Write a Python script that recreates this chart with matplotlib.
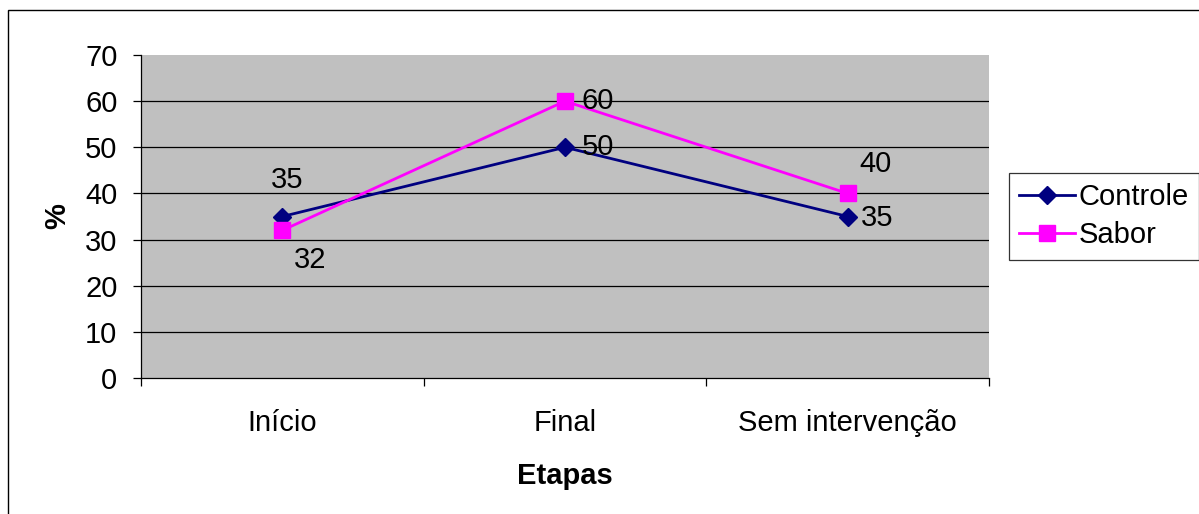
import matplotlib
matplotlib.use("Agg")
import matplotlib.pyplot as plt
from matplotlib.patches import Rectangle

categories = ["Início", "Final", "Sem intervenção"]
controle = [35, 50, 35]
sabor = [32, 60, 40]
yticks = [0, 10, 20, 30, 40, 50, 60, 70]

plt.rcParams['font.family'] = ['Liberation Sans', 'DejaVu Sans']
FS = 21

fig = plt.figure(figsize=(11.99, 5.14), dpi=100)
ax = fig.add_axes([141/1199, 1-378/514, (989-141)/1199, (378-55)/514])
ax.set_facecolor('#C0C0C0')

x = list(range(len(categories)))
ax.plot(x, controle, color='#000080', lw=2, marker='D', ms=9,
        markerfacecolor='#000080', markeredgecolor='#000080', label='Controle', zorder=3)
ax.plot(x, sabor, color='#FF00FF', lw=2, marker='s', ms=12,
        markerfacecolor='#FF00FF', markeredgecolor='#FF00FF', label='Sabor', zorder=3)

ax.set_xlim(-0.5, 2.5)
ax.set_ylim(0, 70)
ax.set_yticks(yticks)
ax.set_yticklabels([str(v) for v in yticks], fontsize=FS)
for v in yticks[1:-1]:
    ax.axhline(v, color='black', lw=0.9, zorder=1)

ax.set_xticks([-0.5, 0.5, 1.5, 2.5])
ax.set_xticklabels([])
ax.set_xticks(x, minor=True)
ax.set_xticklabels(categories, minor=True, fontsize=FS)
ax.tick_params(axis='x', which='minor', length=0, pad=22)
ax.tick_params(axis='x', which='major', length=6, width=0.9, direction='out')
ax.tick_params(axis='y', length=6, width=0.9, direction='out', pad=11)

for s in ['top', 'right']:
    ax.spines[s].set_visible(False)
for s in ['left', 'bottom']:
    ax.spines[s].set_linewidth(0.9)

ax.set_xlabel("Etapas", fontsize=FS, fontweight='bold', labelpad=18)
ax.set_ylabel("%", fontsize=FS, fontweight='bold', labelpad=10)

# data labels
def lab(xi, yi, dx, dy):
    ax.annotate(str(yi), (xi, yi), xytext=(dx, dy), textcoords='offset points',
                ha='center', va='center', fontsize=FS)

lab(0, controle[0], 3.5, 26)
lab(0, sabor[0], 20, -21)
lab(1, controle[1], 23.5, 0)
lab(1, sabor[1], 23.5, 0)
lab(2, controle[2], 21, -1)
lab(2, sabor[2], 20, 21.5)

leg = fig.legend(loc='upper left', bbox_to_anchor=(1009/1199, 1-173/514), fontsize=FS,
                 frameon=True, fancybox=False, handlelength=1.9, handletextpad=0.15,
                 borderpad=0.35, labelspacing=0.35, borderaxespad=0)
leg.get_frame().set_edgecolor('black')
leg.get_frame().set_linewidth(0.9)

# outer chart border
fig.patches.append(Rectangle((8/1199, -0.1), 1.2, (1-10/514) + 0.1, transform=fig.transFigure,
                             fill=False, edgecolor='black', lw=1.0, zorder=0))

fig.savefig("out.png", dpi=100)
